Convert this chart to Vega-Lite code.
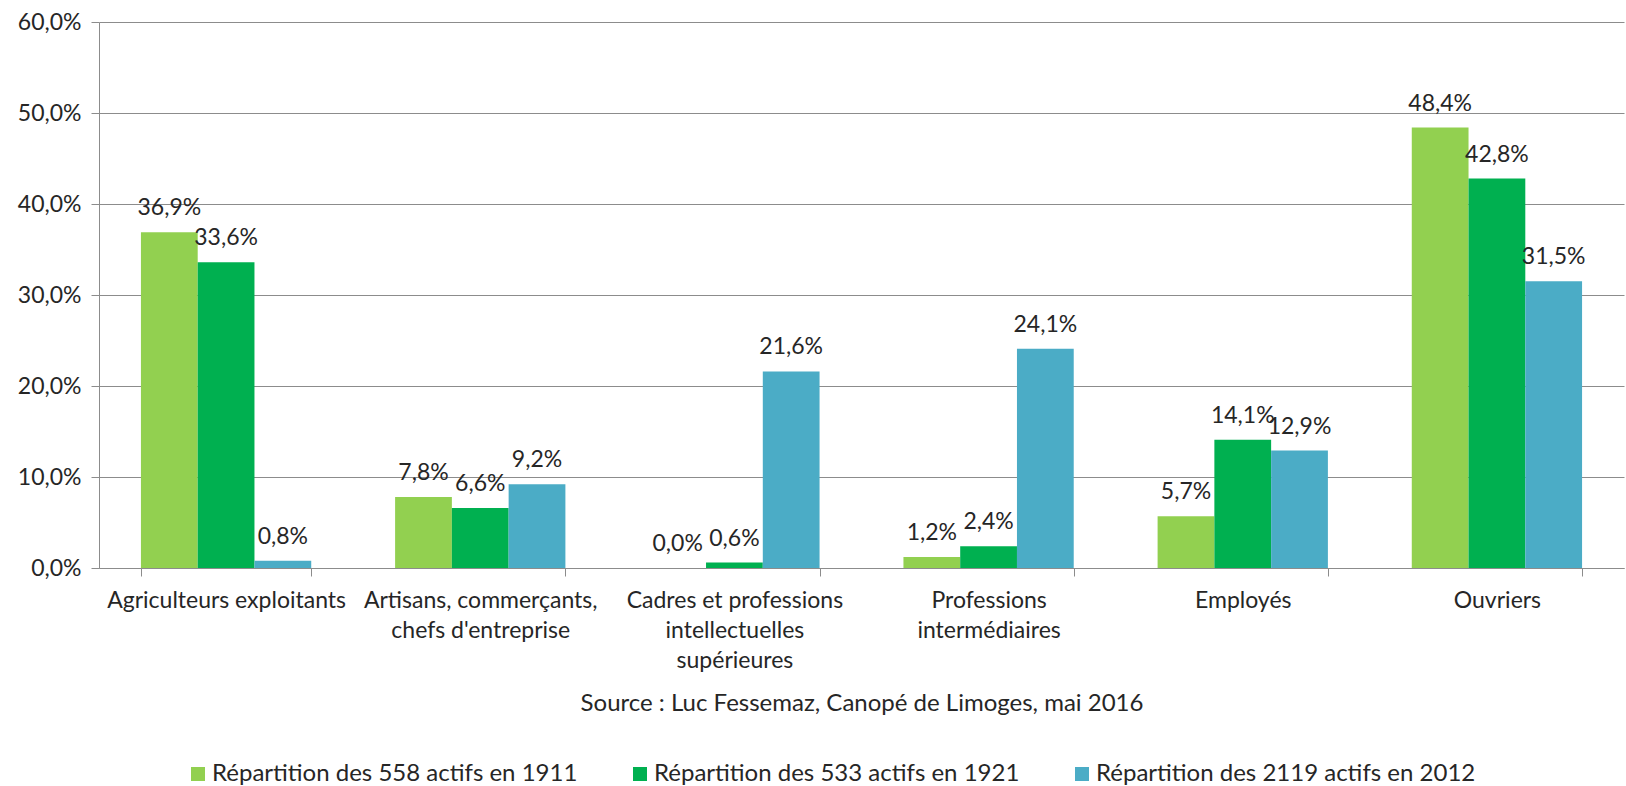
{
  "$schema": "https://vega.github.io/schema/vega-lite/v6.json",
  "autosize": {"type": "none"},
  "width": 1525,
  "height": 546,
  "padding": {"left": 99, "top": 22, "right": 2, "bottom": 218},
  "background": "white",
  "config": {
    "locale": {"number": {"decimal": ",", "thousands": " ", "grouping": [3], "currency": ["", " €"]}},
    "font": "Lato",
    "view": {"stroke": null}
  },
  "data": {
    "values": [
      {"categorie": "Agriculteurs exploitants", "serie": "Répartition des 558 actifs en 1911", "part": 0.369},
      {"categorie": "Agriculteurs exploitants", "serie": "Répartition des 533 actifs en 1921", "part": 0.336},
      {"categorie": "Agriculteurs exploitants", "serie": "Répartition des 2119 actifs en 2012", "part": 0.008},
      {"categorie": "Artisans, commerçants, chefs d'entreprise", "serie": "Répartition des 558 actifs en 1911", "part": 0.078},
      {"categorie": "Artisans, commerçants, chefs d'entreprise", "serie": "Répartition des 533 actifs en 1921", "part": 0.066},
      {"categorie": "Artisans, commerçants, chefs d'entreprise", "serie": "Répartition des 2119 actifs en 2012", "part": 0.092},
      {"categorie": "Cadres et professions intellectuelles supérieures", "serie": "Répartition des 558 actifs en 1911", "part": 0.0},
      {"categorie": "Cadres et professions intellectuelles supérieures", "serie": "Répartition des 533 actifs en 1921", "part": 0.006},
      {"categorie": "Cadres et professions intellectuelles supérieures", "serie": "Répartition des 2119 actifs en 2012", "part": 0.216},
      {"categorie": "Professions intermédiaires", "serie": "Répartition des 558 actifs en 1911", "part": 0.012},
      {"categorie": "Professions intermédiaires", "serie": "Répartition des 533 actifs en 1921", "part": 0.024},
      {"categorie": "Professions intermédiaires", "serie": "Répartition des 2119 actifs en 2012", "part": 0.241},
      {"categorie": "Employés", "serie": "Répartition des 558 actifs en 1911", "part": 0.057},
      {"categorie": "Employés", "serie": "Répartition des 533 actifs en 1921", "part": 0.141},
      {"categorie": "Employés", "serie": "Répartition des 2119 actifs en 2012", "part": 0.129},
      {"categorie": "Ouvriers", "serie": "Répartition des 558 actifs en 1911", "part": 0.484},
      {"categorie": "Ouvriers", "serie": "Répartition des 533 actifs en 1921", "part": 0.428},
      {"categorie": "Ouvriers", "serie": "Répartition des 2119 actifs en 2012", "part": 0.315}
    ]
  },
  "encoding": {
    "x": {
      "field": "categorie",
      "type": "nominal",
      "sort": ["Agriculteurs exploitants", "Artisans, commerçants, chefs d'entreprise", "Cadres et professions intellectuelles supérieures", "Professions intermédiaires", "Employés", "Ouvriers"],
      "scale": {"paddingInner": 0.33, "paddingOuter": 0.165},
      "axis": {
        "title": "Source : Luc Fessemaz, Canopé de Limoges, mai 2016",
        "titleFont": "Lato",
        "titleFontSize": 24,
        "titleFontWeight": "normal",
        "titleColor": "#262626",
        "titlePadding": 19,
        "labelAngle": 0,
        "labelFont": "Lato",
        "labelFontSize": 23,
        "labelColor": "#262626",
        "labelLineHeight": 30,
        "labelPadding": 13,
        "labelBaseline": "top",
        "labelLimit": 400,
        "labelExpr": "datum.value == 'Artisans, commerçants, chefs d\\'entreprise' ? ['Artisans, commerçants,', 'chefs d\\'entreprise'] : datum.value == 'Cadres et professions intellectuelles supérieures' ? ['Cadres et professions', 'intellectuelles', 'supérieures'] : datum.value == 'Professions intermédiaires' ? ['Professions', 'intermédiaires'] : datum.value",
        "tickBand": "extent",
        "tickSize": 8,
        "tickColor": "#8c8c8c",
        "domainColor": "#8c8c8c",
        "grid": false
      }
    },
    "xOffset": {
      "field": "serie",
      "type": "nominal",
      "sort": ["Répartition des 558 actifs en 1911", "Répartition des 533 actifs en 1921", "Répartition des 2119 actifs en 2012"],
      "scale": {"paddingInner": 0, "paddingOuter": 0}
    },
    "y": {
      "field": "part",
      "type": "quantitative",
      "scale": {"domain": [0, 0.6]},
      "axis": {
        "title": null,
        "values": [0, 0.1, 0.2, 0.3, 0.4, 0.5, 0.6],
        "format": ".1%",
        "labelFont": "Lato",
        "labelFontSize": 23,
        "labelColor": "#262626",
        "labelPadding": 10,
        "tickSize": 8,
        "tickColor": "#8c8c8c",
        "domainColor": "#8c8c8c",
        "gridColor": "#8c8c8c",
        "grid": true
      }
    }
  },
  "layer": [
    {
      "mark": {"type": "bar"},
      "encoding": {
        "color": {
          "field": "serie",
          "type": "nominal",
          "sort": ["Répartition des 558 actifs en 1911", "Répartition des 533 actifs en 1921", "Répartition des 2119 actifs en 2012"],
          "scale": {"range": ["#92D050", "#00B050", "#4BACC6"]},
          "legend": {
            "title": null,
            "orient": "none",
            "legendX": 87,
            "legendY": 740,
            "direction": "horizontal",
            "symbolType": "square",
            "symbolSize": 196,
            "symbolStrokeWidth": 0,
            "labelFont": "Lato",
            "labelFontSize": 24,
            "labelColor": "#262626",
            "labelLimit": 500,
            "labelOffset": 2,
            "columnPadding": 50
          }
        }
      }
    },
    {
      "mark": {"type": "text", "baseline": "alphabetic", "dy": -17, "font": "Lato", "fontSize": 23, "color": "#262626"},
      "encoding": {
        "text": {"field": "part", "type": "quantitative", "format": ".1%"}
      }
    }
  ]
}
